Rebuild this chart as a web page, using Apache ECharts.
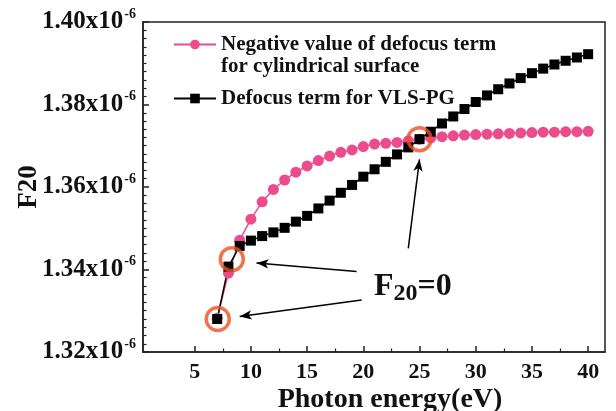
<!DOCTYPE html>
<html><head><meta charset="utf-8">
<script src="https://cdn.jsdelivr.net/npm/echarts@6/dist/echarts.min.js"></script>
<style>html,body{margin:0;padding:0;background:#fff}#c{width:616px;height:411px}</style>
</head><body><div id="c"></div>
<script>
// Photon energy (eV)
const energy = [7,8,9,10,11,12,13,14,15,16,17,18,19,20,21,22,23,24,25,26,27,28,29,30,31,32,33,34,35,36,37,38,39,40];
// Negative value of defocus term for cylindrical surface (x1e-6)
const cylNeg = [1.3282,1.3391,1.3471,1.3522,1.3564,1.3594,1.3617,1.3636,1.3651,1.3664,1.3675,1.3684,1.3690,1.3698,1.3704,1.3706,1.3708,1.3712,1.3716,1.3719,1.3722,1.3724,1.3726,1.3727,1.3728,1.3729,1.3730,1.3731,1.3732,1.3733,1.3733,1.3734,1.3734,1.3735];
// Defocus term for VLS-PG (x1e-6)
const vlsPg = [1.3280,1.3407,1.3457,1.3470,1.3481,1.3490,1.3501,1.3516,1.3530,1.3548,1.3567,1.3586,1.3605,1.3625,1.3643,1.3661,1.3679,1.3696,1.3716,1.3734,1.3754,1.3771,1.3789,1.3806,1.3822,1.3837,1.3851,1.3864,1.3876,1.3887,1.3897,1.3906,1.3914,1.3922];
// F20 = 0 crossing markers
const crossPoints = [[7.05,1.3280],[8.3,1.3425],[25.0,1.3716]];
// arrows: [head, tail]
const arrows = [
  [[10.5,1.3416],[19.4,1.3395]],
  [[9.0,1.3286],[19.85,1.3326]],
  [[25.0,1.3667],[24.0,1.3451]]
];
const annotAt = [24.4,1.3358];
const xTicks = [5,10,15,20,25,30,35,40];
const xMinorTicks = [7.5,12.5,17.5,22.5,27.5,32.5,37.5];

const FONT = "'Liberation Serif','Times New Roman',serif";
const PINK = '#ec4b8c';
const ORANGE = '#ec5022';

const chart = echarts.init(document.getElementById('c'), null, {renderer:'canvas'});
const xRange = {min:0.4, max:41.5};
chart.setOption({
  animation:false,
  backgroundColor:'#fff',
  grid:{left:143, top:22, right:11, bottom:59, show:true, borderColor:'#222', borderWidth:1.5,
        backgroundColor:'transparent', containLabel:false, outerBoundsMode:'none'},
  legend:{
    orient:'vertical', left:168, top:29, itemWidth:42, itemHeight:12, itemGap:33,
    data:['Negative value of defocus term','Defocus term for VLS-PG'],
    textStyle:{fontFamily:FONT, fontWeight:'bold', fontSize:21, color:'#111'},
    selectedMode:false
  },
  xAxis:[{
    type:'value', min:xRange.min, max:xRange.max,
    name:'Photon energy(eV)', nameLocation:'middle', nameGap:34, nameMoveOverlap:false,
    nameTextStyle:{fontFamily:FONT, fontWeight:'bold', fontSize:28, color:'#111', padding:[0,0,0,32]},
    axisLine:{lineStyle:{color:'#222', width:1.5}},
    axisTick:{inside:true, length:6, lineStyle:{color:'#222', width:1.5}, customValues:xTicks},
    axisLabel:{customValues:xTicks, fontFamily:FONT, fontWeight:'bold', fontSize:22, color:'#111', margin:9},
    splitLine:{show:false}
  },{
    type:'value', min:xRange.min, max:xRange.max, position:'bottom',
    axisLine:{show:false},
    axisTick:{inside:true, length:3.5, lineStyle:{color:'#222', width:1.2}, customValues:xMinorTicks},
    axisLabel:{show:false}, splitLine:{show:false}
  }],
  yAxis:{
    type:'value', min:1.32, max:1.40, interval:0.02,
    name:'F20', nameLocation:'middle', nameGap:100, nameRotate:90, nameMoveOverlap:false,
    nameTextStyle:{fontFamily:FONT, fontWeight:'bold', fontSize:27, color:'#111', padding:[0,0,0,0]},
    axisLine:{show:true, lineStyle:{color:'#222', width:1.5}},
    axisTick:{inside:true, length:6, lineStyle:{color:'#222', width:1.5}},
    minorTick:{show:true, splitNumber:10, length:3.5, lineStyle:{color:'#222', width:1.2}},
    axisLabel:{
      margin:7,
      formatter:function(v){ return '{a|' + v.toFixed(2) + 'x10}{s|-6}'; },
      rich:{
        a:{fontFamily:FONT, fontWeight:'bold', fontSize:25, color:'#111', lineHeight:30},
        s:{fontFamily:FONT, fontWeight:'bold', fontSize:14, color:'#111', verticalAlign:'top', lineHeight:30, padding:[0,0,16,1]}
      }
    },
    splitLine:{show:false}, minorSplitLine:{show:false}
  },
  series:[
    {
      name:'Negative value of defocus term', type:'line', xAxisIndex:0,
      data: energy.map((e,i)=>[e, cylNeg[i]]),
      symbol:'circle', symbolSize:11,
      lineStyle:{color:PINK, width:1.5}, itemStyle:{color:PINK},
      emphasis:{disabled:true}
    },
    {
      name:'Defocus term for VLS-PG', type:'line', xAxisIndex:0,
      data: energy.map((e,i)=>[e, vlsPg[i]]),
      symbol:'rect', symbolSize:10,
      lineStyle:{color:'#000', width:1.5}, itemStyle:{color:'#000'},
      emphasis:{disabled:true}
    },
    {
      name:'crossings', type:'scatter', xAxisIndex:0,
      data: crossPoints,
      symbol:'circle', symbolSize:23, z:5,
      itemStyle:{color:'rgba(0,0,0,0)', borderColor:ORANGE, borderWidth:3.5},
      emphasis:{disabled:true},
      markLine:{
        silent:true, symbol:['arrow','none'], symbolSize:[7,12],
        label:{show:false},
        lineStyle:{color:'#000', width:1.5, type:'solid'},
        data: arrows.map(a=>[{coord:a[0]},{coord:a[1]}])
      },
      markPoint:{
        silent:true, symbol:'circle', symbolSize:1,
        itemStyle:{color:'rgba(0,0,0,0)'},
        label:{show:true, position:'inside', formatter:'{f|F}{s|20}{f|=0}',
          rich:{
            f:{fontFamily:FONT, fontWeight:'bold', fontSize:32, color:'#111', lineHeight:38},
            s:{fontFamily:FONT, fontWeight:'bold', fontSize:24, color:'#111', verticalAlign:'bottom', lineHeight:38, padding:[10,0,0,0]}
          }},
        data:[{coord:annotAt}]
      }
    }
  ],
  graphic:[{
    type:'text', left:221, top:56,
    style:{text:'for cylindrical surface', font:"bold 21px 'Liberation Serif', serif", fill:'#111'}
  }]
});
</script></body></html>
